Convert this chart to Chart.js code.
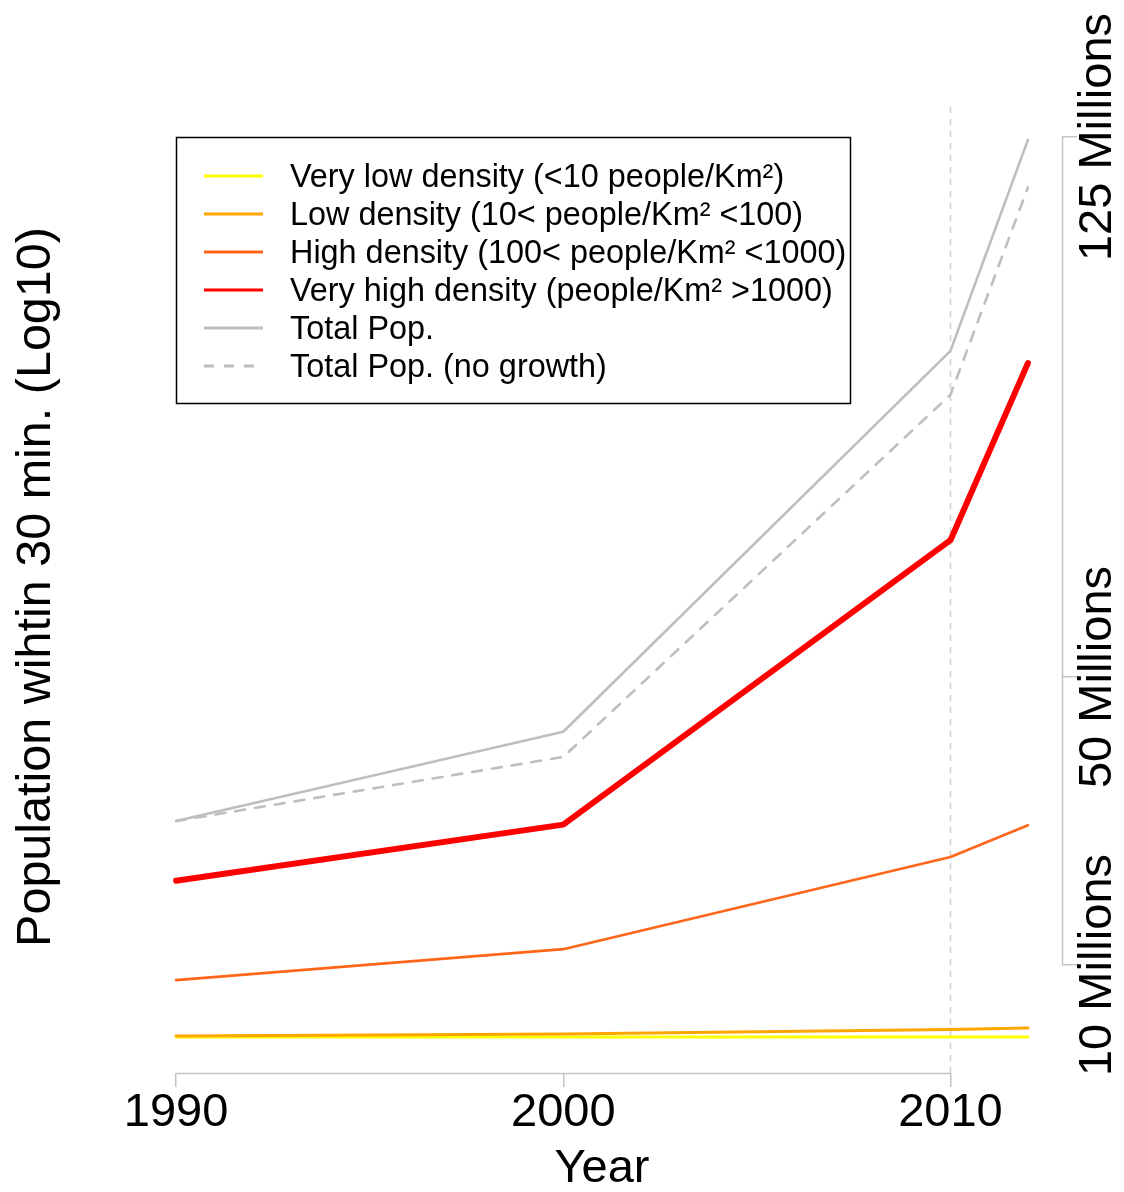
<!DOCTYPE html>
<html>
<head>
<meta charset="utf-8">
<script src="https://cdn.jsdelivr.net/npm/chart.js@4.4.0/dist/chart.umd.min.js"></script>
<style>
html, body { margin: 0; padding: 0; background: #ffffff; }
canvas { display: block; }
</style>
</head>
<body>
<canvas id="c" width="1124" height="1192"></canvas>
<script>
// ---- data (millions of people) ----
const years = [1990, 2000, 2010, 2012];
const veryLowDensity = [0.0, 0.0, 0.0, 0.0];
const lowDensity = [0.15, 0.4, 1.05, 1.25];
const highDensity = [7.9, 12.2, 25.0, 29.4];
const veryHighDensity = [21.7, 29.5, 69.0, 93.6];
const totalPop = [30.0, 42.4, 95.3, 124.6];
const totalPopNoGrowth = [30.0, 38.9, 89.2, 118.0];

const seriesLabels = [
  'Very low density (<10 people/Km\u00B2)',
  'Low density (10< people/Km\u00B2 <100)',
  'High density (100< people/Km\u00B2 <1000)',
  'Very high density (people/Km\u00B2 >1000)',
  'Total Pop.',
  'Total Pop. (no growth)'
];

const xTickValues = [1990, 2000, 2010];
const yTickValues = [10, 50, 125];
const yTickLabels = ['10 Millions', '50 Millions', '125 Millions'];
const markerYear = 2010;

// ---- layout / style ----
const FONT = "'Liberation Sans', Arial, Helvetica, sans-serif";
const W = 1124, H = 1192;
const AREA = { left: 142, right: 1062, top: 101, bottom: 1073 };
const AXIS_GRAY = '#C4C4C4';

const mctx = document.createElement('canvas').getContext('2d');
mctx.font = '47px ' + FONT;
const widestY = Math.max(...yTickLabels.map(t => mctx.measureText(t).width));
const yTickLen = 15;
const yLabelCenterX = 1098;
const yTickPad = (yLabelCenterX - AREA.right) - yTickLen - widestY / 2;

function pts(vals) { return years.map((y, i) => ({ x: y, y: vals[i] })); }

const styles = [
  { color: '#FFFF00', width: 3, dash: [] },
  { color: '#FFA500', width: 3, dash: [] },
  { color: '#FF6619', width: 2.6, dash: [] },
  { color: '#FF0000', width: 6, dash: [] },
  { color: '#BEBEBE', width: 2.6, dash: [] },
  { color: '#BEBEBE', width: 2.6, dash: [10, 10] }
];
const seriesValues = [veryLowDensity, lowDensity, highDensity, veryHighDensity, totalPop, totalPopNoGrowth];

const datasets = seriesValues.map((vals, i) => ({
  label: seriesLabels[i],
  data: pts(vals),
  borderColor: styles[i].color,
  backgroundColor: styles[i].color,
  borderWidth: styles[i].width,
  borderDash: styles[i].dash,
  pointRadius: 0,
  tension: 0,
  fill: false,
  borderCapStyle: 'round',
  borderJoinStyle: 'round',
  yAxisID: 'y',
  order: [4, 3, 2, 0, 1, 1][i]
}));

const decorPlugin = {
  id: 'decor',
  beforeDatasetsDraw(chart) {
    const { ctx, scales: { x, y }, chartArea } = chart;
    ctx.save();
    // dashed vertical marker
    const mx = Math.round(x.getPixelForValue(markerYear)) + 0.5;
    ctx.strokeStyle = '#CFCFCF';
    ctx.lineWidth = 1.5;
    ctx.setLineDash([6, 6]);
    ctx.beginPath();
    ctx.moveTo(mx, chartArea.top + 6);
    ctx.lineTo(mx, chartArea.bottom);
    ctx.stroke();
    ctx.setLineDash([]);
    // x axis line (first to last tick)
    ctx.strokeStyle = AXIS_GRAY;
    ctx.lineWidth = 1.5;
    ctx.beginPath();
    ctx.moveTo(x.getPixelForValue(xTickValues[0]), chartArea.bottom + 0.5);
    ctx.lineTo(x.getPixelForValue(xTickValues[xTickValues.length - 1]), chartArea.bottom + 0.5);
    ctx.stroke();
    // right axis line (first to last tick)
    ctx.beginPath();
    ctx.moveTo(chartArea.right + 0.5, y.getPixelForValue(yTickValues[0]));
    ctx.lineTo(chartArea.right + 0.5, y.getPixelForValue(yTickValues[yTickValues.length - 1]));
    ctx.stroke();
    ctx.restore();
  },
  afterDraw(chart) {
    const { ctx } = chart;
    const box = { left: 176, top: 137, right: 850, bottom: 403 };
    const lx0 = 204, lx1 = 263, tx = 290, row0 = 176, step = 38;
    ctx.save();
    ctx.strokeStyle = '#000';
    ctx.lineWidth = 1.5;
    ctx.strokeRect(box.left + 0.5, box.top + 0.5, box.right - box.left, box.bottom - box.top);
    chart.data.datasets.forEach((ds, i) => {
      const yy = row0 + i * step;
      ctx.beginPath();
      ctx.setLineDash(ds.borderDash || []);
      ctx.strokeStyle = ds.borderColor;
      ctx.lineWidth = 3;
      ctx.lineCap = 'butt';
      ctx.moveTo(lx0, yy);
      ctx.lineTo(lx1, yy);
      ctx.stroke();
      ctx.setLineDash([]);
      ctx.fillStyle = '#000';
      ctx.font = '32.4px ' + FONT;
      ctx.textBaseline = 'middle';
      ctx.textAlign = 'left';
      ctx.fillText(ds.label, tx, yy + 2);
    });
    ctx.restore();
  }
};

Chart.defaults.font.family = FONT;

new Chart(document.getElementById('c'), {
  type: 'line',
  data: { datasets },
  options: {
    responsive: false,
    animation: false,
    devicePixelRatio: 1,
    layout: { padding: { top: AREA.top, right: 0, bottom: 0, left: 0 } },
    plugins: { legend: { display: false }, tooltip: { enabled: false } },
    scales: {
      x: {
        type: 'linear',
        position: 'bottom',
        min: 1989.12,
        max: 2012.88,
        afterBuildTicks: s => { s.ticks = xTickValues.map(v => ({ value: v })); },
        afterFit: s => { s.height = H - AREA.bottom; },
        grid: { display: true, drawOnChartArea: false, drawTicks: true, tickLength: 14, color: AXIS_GRAY, lineWidth: 1.5 },
        border: { display: false },
        ticks: {
          autoSkip: false,
          maxRotation: 0,
          minRotation: 0,
          padding: -2,
          color: '#000',
          font: { size: 47, family: FONT },
          callback: v => String(v)
        },
        title: {
          display: true,
          text: 'Year',
          color: '#000',
          font: { size: 47, family: FONT, lineHeight: 1 },
          padding: { top: 0, bottom: -1 }
        }
      },
      y: {
        type: 'linear',
        position: 'right',
        min: -5,
        max: 130,
        afterBuildTicks: s => { s.ticks = yTickValues.map(v => ({ value: v })); },
        afterFit: s => { s.width = W - AREA.right; },
        grid: { display: true, drawOnChartArea: false, drawTicks: true, tickLength: yTickLen, color: AXIS_GRAY, lineWidth: 1.5 },
        border: { display: false },
        ticks: {
          autoSkip: false,
          minRotation: 90,
          maxRotation: 90,
          crossAlign: 'center',
          padding: yTickPad,
          color: '#000',
          font: { size: 47, family: FONT },
          callback: v => yTickLabels[yTickValues.indexOf(v)] || ''
        }
      },
      yl: {
        type: 'linear',
        position: 'left',
        min: -5,
        max: 130,
        afterFit: s => { s.width = AREA.left; },
        grid: { display: false },
        border: { display: false },
        ticks: { display: false },
        title: {
          display: true,
          text: 'Population wihtin 30 min. (Log10)',
          color: '#000',
          font: { size: 48.5, family: FONT, lineHeight: 1 },
          padding: { top: 12, bottom: 0 }
        }
      }
    }
  },
  plugins: [decorPlugin]
});
</script>
</body>
</html>
